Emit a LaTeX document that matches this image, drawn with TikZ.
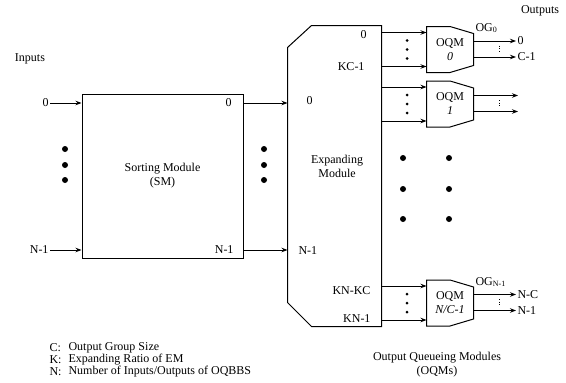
\documentclass[tikz,border=0pt]{standalone}
\usepackage{fontspec}
\setmainfont{Liberation Serif}
\usetikzlibrary{arrows.meta, positioning, calc}

\begin{document}
\begin{tikzpicture}[
    x=1pt, y=-1pt,
    line width=1pt,
    >={Stealth[length=6pt, width=4.5pt]},
    lbl/.style={font=\fontsize{12}{14}\selectfont, inner sep=1pt},
    sortbox/.style={draw, minimum width=161pt, minimum height=164pt,
                    align=center, font=\fontsize{12}{14}\selectfont},
    hull/.style={minimum width=93pt, minimum height=300pt, inner sep=0pt},
    oqm/.style={minimum width=46pt, minimum height=45pt, inner sep=0pt,
                align=center, font=\fontsize{12}{14}\selectfont},
    bigdot/.style={circle, fill, inner sep=0pt, minimum size=6pt},
    smalldot/.style={circle, fill, inner sep=0pt, minimum size=3pt}
  ]
  \useasboundingbox (0,0) rectangle (566,383);

  % sorting module and its ports
  \node[sortbox] (sm) at (162.5,176) {Sorting Module\\(SM)};
  \node[lbl] (inputs) at (30,59) {Inputs};
  \node[lbl, anchor=east] (in0) at (50,103) {0};
  \node[lbl, anchor=east] (inN) at (50,250) {N-1};
  \node[lbl, anchor=east] (smo0) at (233,103) {0};
  \node[lbl, anchor=east] (smoN) at (235,250) {N-1};
  \draw[->] (in0.east) -- (sm.west |- in0);
  \draw[->] (inN.east) -- (sm.west |- inN);

  \foreach \y in {149,165,180} {
    \node[bigdot] (ldot\y) at (65,\y) {};
    \node[bigdot] (rdot\y) at (264,\y) {};
  }

  % expanding module
  \node[hull] (em) at (334.5,176) {};
  \draw ($(em.north west)+(24,0)$) -- (em.north east) -- (em.south east)
    -- ($(em.south west)+(24,0)$) -- ($(em.south west)+(0,-24)$)
    -- ($(em.north west)+(0,22)$) -- cycle;
  \node[lbl, align=center] (emtxt) at (337,166) {Expanding\\Module};
  \node[lbl, anchor=west] (emi0) at (305,101) {0};
  \node[lbl, anchor=west] (emiN) at (297,251) {N-1};
  \node[lbl, anchor=east] (emo0) at (368,35) {0};
  \node[lbl, anchor=east] (emoKC) at (366,67) {KC-1};
  \node[lbl, anchor=east] (emoKNKC) at (372,291) {KN-KC};
  \node[lbl, anchor=east] (emoKN) at (372,319) {KN-1};
  \draw[->] (sm.east |- in0) -- (em.west |- in0);
  \draw[->] (sm.east |- inN) -- (em.west |- inN);

  % output queueing modules
  \node[oqm] (q0) at (450,49.5) {OQM\\\textit{0}};
  \node[oqm] (q1) at (450,104) {OQM\\\textit{1}};
  \node[oqm] (qn) at (450,303) {OQM\\\textit{N/C-1}};

  \foreach \q in {q0,q1,qn} {
    \draw (\q.north west) -- ($(\q.north west)!0.5!(\q.north east)$)
      -- ($(\q.north east)+(0,7)$) -- ($(\q.south east)+(0,-7)$)
      -- ($(\q.south west)!0.5!(\q.south east)$) -- (\q.south west) -- cycle;
    \coordinate (\q-a) at ($(\q.north west)+(0,6)$);
    \coordinate (\q-b) at ($(\q.south west)+(0,-6)$);
    \draw[->] (em.east |- \q-a) -- (\q-a);
    \draw[->] (em.east |- \q-b) -- (\q-b);
    \foreach \dy [count=\i] in {-9,0,9}
      \node[smalldot] (\q-d\i) at ($(\q.center)+(-43,\dy)$) {};
    \coordinate (\q-c) at ($(\q.east)+(0,-8.5)$);
    \coordinate (\q-e) at ($(\q.east)+(0,7.5)$);
    \draw[dotted, line width=0.7pt] ($(\q.east)+(26,-4)$) -- ($(\q.east)+(26,4)$);
  }

  \node[lbl] (outputs) at (540,11) {Outputs};
  \node[lbl, anchor=west] (og0) at (474,28) {OG\textsubscript{0}};
  \node[lbl, anchor=west] (ogN) at (474,282) {OG\textsubscript{N-1}};

  \node[lbl, anchor=west] (out0) at (516,41) {0};
  \node[lbl, anchor=west] (outC) at (516,57) {C-1};
  \node[lbl, anchor=west] (outNC) at (516,294.5) {N-C};
  \node[lbl, anchor=west] (outN1) at (516,310.5) {N-1};
  \coordinate (q1-t) at (518,95.5);
  \coordinate (q1-u) at (518,111.5);

  \draw[->] (q0.east |- q0-c) -- (out0.west);
  \draw[->] (q0.east |- q0-e) -- (outC.west);
  \draw[->] (q1.east |- q1-c) -- (q1-t);
  \draw[->] (q1.east |- q1-e) -- (q1-u);
  \draw[->] (qn.east |- qn-c) -- (outNC.west);
  \draw[->] (qn.east |- qn-e) -- (outN1.west);

  \foreach \y in {158,189,219} {
    \node[bigdot] (mdotA\y) at (403,\y) {};
    \node[bigdot] (mdotB\y) at (449,\y) {};
  }

  \node[lbl, align=center] (oqmcap) at (437,365) {Output Queueing Modules\\(OQMs)};

  % legend
  \foreach \k/\t [count=\i] in {C/{Output Group Size}, K/{Expanding Ratio of EM},
                                N/{Number of Inputs/Outputs of OQBBS}} {
    \node[lbl, anchor=west] (key\i) at (48,336+12*\i) {\k:};
    \node[lbl, anchor=west] (keytxt\i) at (67,336+12*\i) {\t};
  }
\end{tikzpicture}
\end{document}
